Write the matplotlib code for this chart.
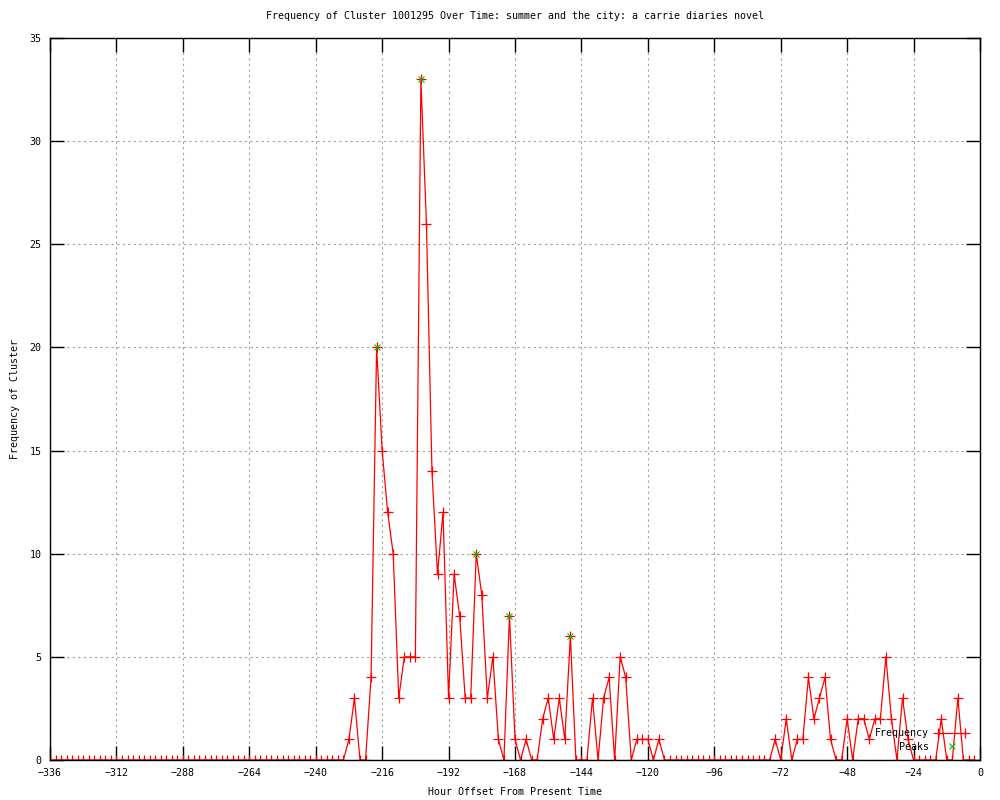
import matplotlib.pyplot as plt
from matplotlib.legend_handler import HandlerLine2D
import numpy as np

# hours before present, every 2 hours
hours = np.arange(-336, 0, 2)

# frequency of the cluster, 12 values (24 h) per row, from -336 to -2
freq = [
    0, 0, 0, 0, 0, 0, 0, 0, 0, 0, 0, 0,
    0, 0, 0, 0, 0, 0, 0, 0, 0, 0, 0, 0,
    0, 0, 0, 0, 0, 0, 0, 0, 0, 0, 0, 0,
    0, 0, 0, 0, 0, 0, 0, 0, 0, 0, 0, 0,
    0, 0, 0, 0, 0, 0, 1, 3, 0, 0, 4, 20,
    15, 12, 10, 3, 5, 5, 5, 33, 26, 14, 9, 12,
    3, 9, 7, 3, 3, 10, 8, 3, 5, 1, 0, 7,
    1, 0, 1, 0, 0, 2, 3, 1, 3, 1, 6, 0,
    0, 0, 3, 0, 3, 4, 0, 5, 4, 0, 1, 1,
    1, 0, 1, 0, 0, 0, 0, 0, 0, 0, 0, 0,
    0, 0, 0, 0, 0, 0, 0, 0, 0, 0, 0, 1,
    0, 2, 0, 1, 1, 4, 2, 3, 4, 1, 0, 0,
    2, 0, 2, 2, 1, 2, 2, 5, 2, 0, 3, 1,
    0, 0, 0, 0, 0, 2, 0, 0, 3, 0, 0, 0,
]

peak_hours = [-218, -202, -182, -170, -148]
peak_freq = [20, 33, 10, 7, 6]

xticks = np.arange(-336, 1, 24)
yticks = np.arange(0, 36, 5)

plt.rcParams['font.family'] = 'DejaVu Sans Mono'
plt.rcParams['font.size'] = 7.2

fig = plt.figure(figsize=(10, 8), dpi=100)
ax = fig.add_axes([0.05, 0.05, 0.93, 0.9025])

ax.plot(hours, freq, color='red', linewidth=0.9, marker='+',
        markersize=7, markeredgewidth=0.9, label='Frequency')
pk, = ax.plot(peak_hours, peak_freq, color='#00c000', linestyle='none', marker='x',
              markersize=5, markeredgewidth=0.8, label='Peaks')

ax.set_xlim(-336, 0)
ax.set_ylim(0, 35)
ax.set_xticks(xticks)
ax.set_yticks(yticks)
ax.tick_params(direction='in', length=10, width=1, top=True, right=True,
               labelsize=7.2, pad=6)
ax.grid(True, color='#a0a0a0', linestyle=(0, (2, 3)), linewidth=0.8)
for s in ax.spines.values():
    s.set_linewidth(1)

ax.set_title('Frequency of Cluster 1001295 Over Time: summer and the city: a carrie diaries novel',
             fontsize=7.2, pad=14)
ax.set_xlabel('Hour Offset From Present Time', fontsize=7.2, labelpad=6)
ax.set_ylabel('Frequency of Cluster', fontsize=7.2, labelpad=7)

ax.legend(loc='lower right', bbox_to_anchor=(0.997, -0.001), frameon=False,
          markerfirst=False, numpoints=2, handlelength=3.3, labelspacing=0.35,
          handletextpad=0.6, fontsize=7.2,
          handler_map={pk: HandlerLine2D(numpoints=1)})

fig.savefig('out.png', dpi=100)
